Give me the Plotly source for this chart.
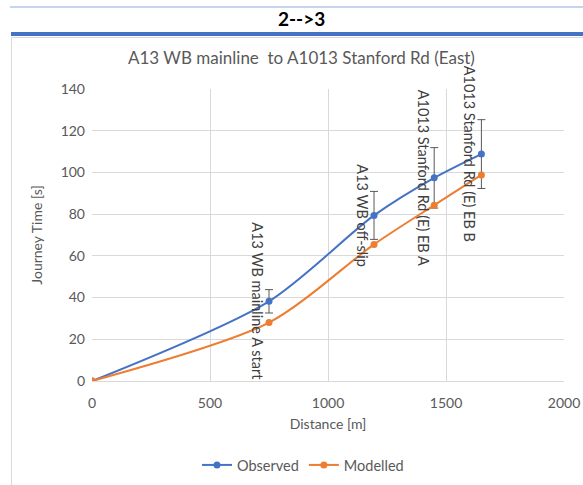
import plotly.graph_objects as go

distance = [0, 750, 1195, 1450, 1650]
observed = [0, 38.2, 79.4, 97.4, 108.8]
modelled = [0, 28.0, 65.5, 84.3, 98.8]
obs_err = [0, 5.6, 11.5, 14.5, 16.5]
labels = ["", "A13 WB mainline A start", "A13 WB off-slip",
          "A1013 Stanford Rd (E) EB A", "A1013 Stanford Rd (E) EB B"]

BLUE = "#4472C4"
ORANGE = "#ED7D31"
GREY = "#595959"
FONT = "Lato"

fig = go.Figure()
fig.add_trace(go.Scatter(
    x=distance, y=observed, name="Observed", mode="lines+markers",
    line=dict(color=BLUE, width=2, shape="spline", smoothing=0.8),
    marker=dict(color=BLUE, size=7),
    error_y=dict(type="data", array=obs_err, visible=True, color=GREY, thickness=1, width=4),
))
fig.add_trace(go.Scatter(
    x=distance, y=modelled, name="Modelled", mode="lines+markers",
    line=dict(color=ORANGE, width=2, shape="spline", smoothing=0.8),
    marker=dict(color=ORANGE, size=7),
))

for d, o, lab in zip(distance, observed, labels):
    if lab:
        fig.add_annotation(x=d, y=o, text=lab, showarrow=False, textangle=90,
                           xshift=-11, font=dict(family=FONT, size=14.5, color="#404040"))

# header elements
W, H = 583, 485
L, R, T, B = 92, 19, 89, 104
pw, ph = W - L - R, H - T - B
def px(x):
    return (x - L) / pw
def py(y):
    return (H - B - y) / ph

shapes = [
    dict(type="line", xref="paper", yref="paper", x0=px(10), x1=px(590), y0=py(7), y1=py(7),
         line=dict(color="#8EA9DB", width=1)),
    dict(type="rect", xref="paper", yref="paper", x0=px(11), x1=px(590), y0=py(36), y1=py(32),
         line=dict(width=0), fillcolor=BLUE),
    dict(type="rect", xref="paper", yref="paper", x0=px(11.5), x1=px(600), y0=py(37.5), y1=py(500),
         line=dict(color="#D9D9D9", width=1), fillcolor="rgba(0,0,0,0)", layer="below"),
]
fig.add_annotation(xref="paper", yref="paper", x=px(301), y=py(19), yanchor="middle",
                   text="<b>2-->3</b>",
                   showarrow=False, font=dict(family=FONT, size=19, color="#000000"))
fig.add_annotation(xref="paper", yref="paper", x=px(301), y=py(58), yanchor="middle",
                   text="A13 WB mainline  to A1013 Stanford Rd (East)",
                   showarrow=False, font=dict(family=FONT, size=17, color=GREY))

fig.update_layout(
    width=W, height=H,
    margin=dict(l=L, r=R, t=T, b=B, autoexpand=False),
    paper_bgcolor="white", plot_bgcolor="white",
    shapes=shapes,
    font=dict(family=FONT, color=GREY, size=14),
    showlegend=True,
    legend=dict(orientation="h", x=px(303), xanchor="center", y=py(465), yanchor="middle",
                font=dict(size=14.5, color=GREY), itemwidth=30),
    xaxis=dict(range=[0, 2000], dtick=500, showgrid=True, gridcolor="#D9D9D9",
               zeroline=False, showline=True, linecolor="#D9D9D9", ticks="",
               ticklabelstandoff=9, automargin=False,
               title=dict(text="Distance [m]", font=dict(size=14, color=GREY), standoff=9),
               tickfont=dict(size=14, color=GREY)),
    yaxis=dict(range=[0, 140], dtick=20, showgrid=True, gridcolor="#D9D9D9",
               zeroline=False, showline=False, ticks="",
               ticklabelstandoff=6, automargin=False,
               title=dict(text="Journey Time [s]", font=dict(size=14, color=GREY), standoff=14),
               tickfont=dict(size=14, color=GREY)),
)
fig.write_html("out.html")
